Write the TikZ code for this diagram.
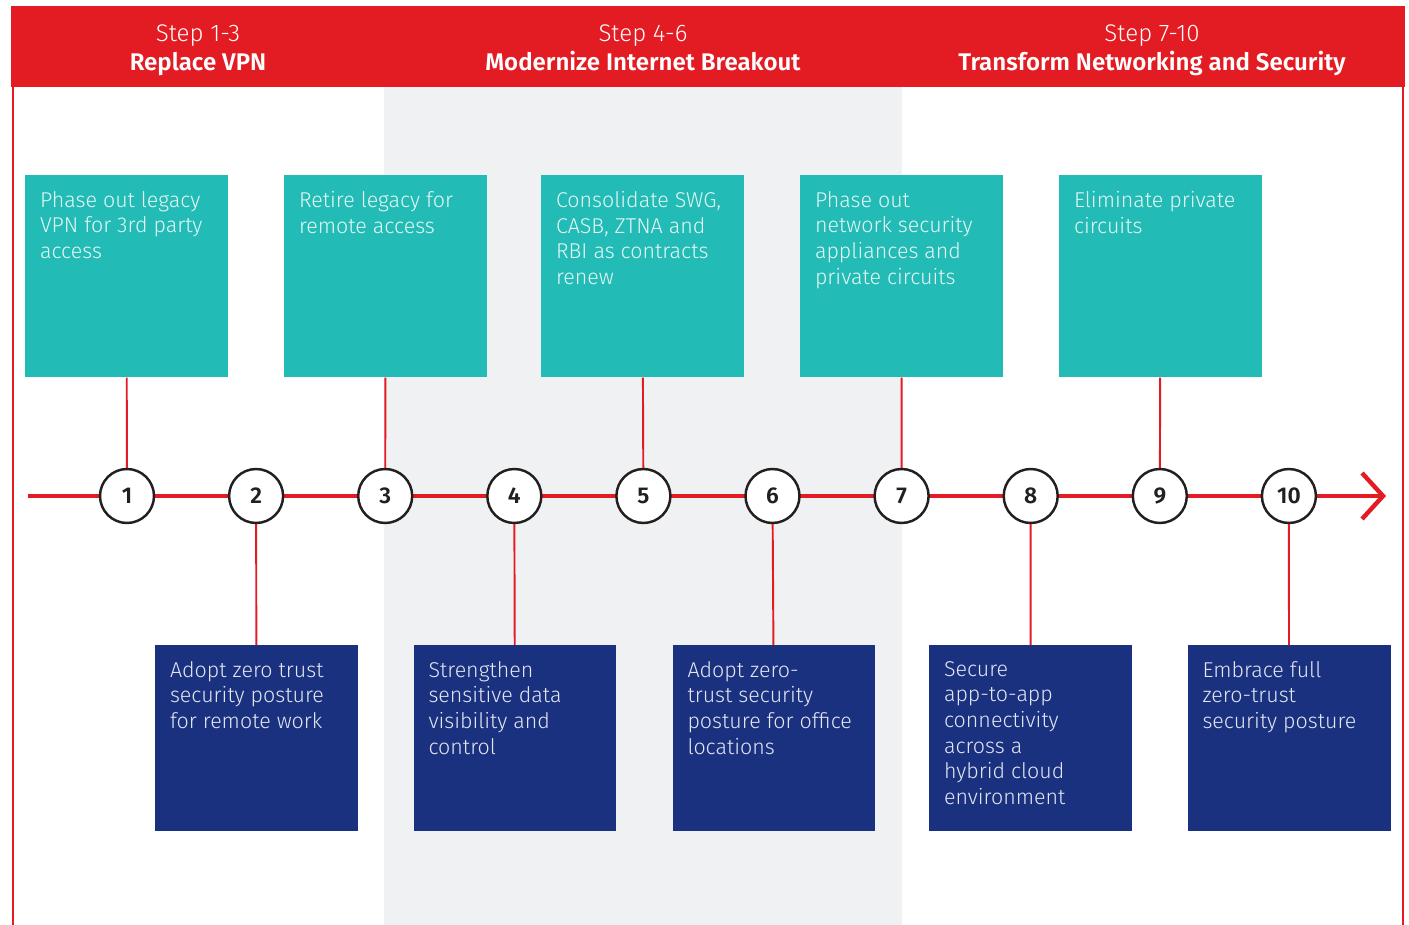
\documentclass[tikz,border=0pt]{standalone}
\usepackage{fontspec}
\setmainfont{Fira Sans}[UprightFont=* Light, BoldFont=* SemiBold]
\usetikzlibrary{positioning,arrows.meta}
\definecolor{zred}{HTML}{E31B23}
\definecolor{zteal}{HTML}{23BBB5}
\definecolor{znavy}{HTML}{1A3180}
\definecolor{zband}{HTML}{F0F1F3}
\definecolor{zdark}{HTML}{231F20}

\begin{document}
\begin{tikzpicture}[x=0.02cm,y=-0.02cm]

\tikzset{tealbox/.style={fill=zteal,inner sep=0pt,minimum width=4.06cm,minimum height=4.04cm,anchor=north},
navybox/.style={fill=znavy,inner sep=0pt,minimum width=4.06cm,minimum height=3.72cm,anchor=north},
boxtext/.style={font=\fontsize{12.2}{14.6}\selectfont,align=left,anchor=north west,inner xsep=0.3cm,inner ysep=0.32cm},
stepnode/.style={circle,draw=zdark,line width=1.4pt,fill=white,minimum size=1.08cm,inner sep=0pt,text=zdark,font=\fontsize{13}{13}\bfseries\selectfont},
headtext/.style={text=white,align=center,font=\fontsize{13.7}{16.4}\selectfont},
stem/.style={draw=zred,line width=1.1pt}}

\useasboundingbox (0,0) rectangle (1409,925);

% Background band and header
\fill[zband] (384,87) rectangle (902,925);
\fill[zred] (11,6) rectangle (1405,87);
\draw[zred,line width=1.3pt] (13,87) -- (13,925);
\draw[zred,line width=1.3pt] (1403,87) -- (1403,925);

\node[headtext] (head1) at (198,50) {Step 1-3\\\textbf{Replace VPN}\vphantom{p}};
\node[headtext] (head2) at (643,50) {Step 4-6\\\textbf{Modernize Internet Breakout}\vphantom{p}};
\node[headtext] (head3) at (1152,50) {Step 7-10\\\textbf{Transform Networking and Security}\vphantom{p}};

% Timeline
\coordinate (tstart) at (28,496);
\coordinate (tend) at (1386,496);
\draw[zred,line width=2.3pt,-{Straight Barb[length=0.42cm,width=0.92cm,line width=2.5pt]}] (tstart) -- (tend);

% Step circles
\foreach \i in {1,...,10} \node[stepnode] (s\i) at ({127+(\i-1)*129.1},496) {\i};

% Upper boxes
\node[tealbox] (t1) at (126.5,175) {};
\node[tealbox] (t3) at (385.5,175) {};
\node[tealbox] (t5) at (642.5,175) {};
\node[tealbox] (t7) at (901.5,175) {};
\node[tealbox] (t9) at (1160.5,175) {};

% Lower boxes
\node[navybox] (n2) at (256.5,645) {};
\node[navybox] (n4) at (515,645) {};
\node[navybox] (n6) at (774,645) {};
\node[navybox] (n8) at (1030.5,645) {};
\node[navybox] (n10) at (1289,645) {};

% Box texts
\node[boxtext,text=white!88!zteal] (tt1) at (t1.north west) {Phase out legacy\\VPN for 3rd party\\access};
\node[boxtext,text=white!88!zteal] (tt3) at (t3.north west) {Retire legacy for\\remote access};
\node[boxtext,text=white!88!zteal] (tt5) at (t5.north west) {Consolidate SWG,\\CASB, ZTNA and\\RBI as contracts\\renew};
\node[boxtext,text=white!88!zteal] (tt7) at (t7.north west) {Phase out\\network security\\appliances and\\private circuits};
\node[boxtext,text=white!88!zteal] (tt9) at (t9.north west) {Eliminate private\\circuits};
\node[boxtext,text=white!88!znavy] (nt2) at (n2.north west) {Adopt zero trust\\security posture\\for remote work};
\node[boxtext,text=white!88!znavy] (nt4) at (n4.north west) {Strengthen\\sensitive data\\visibility and\\control};
\node[boxtext,text=white!88!znavy] (nt6) at (n6.north west) {Adopt zero-\\trust security\\posture for office\\locations};
\node[boxtext,text=white!88!znavy] (nt8) at (n8.north west) {Secure\\app-to-app\\connectivity\\across a\\hybrid cloud\\environment};
\node[boxtext,text=white!88!znavy] (nt10) at (n10.north west) {Embrace full\\zero-trust\\security posture};

% Stems
\foreach \i in {1,3,5,7,9} \draw[stem] (t\i) -- (s\i);
\foreach \i in {2,4,6,8,10} \draw[stem] (s\i) -- (n\i);

\end{tikzpicture}
\end{document}
